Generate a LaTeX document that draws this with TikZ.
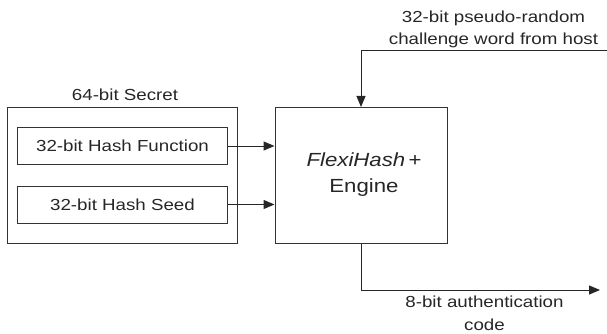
\documentclass[tikz,border=0pt]{standalone}
\usepackage{fontspec}
\setmainfont{Liberation Sans}[FakeStretch=1.17]
\usetikzlibrary{arrows.meta}
\tikzset{
  lbl/.style={font=\fontsize{16}{22}\selectfont, align=center, inner sep=0pt, text=black!85},
  biglbl/.style={font=\fontsize{19}{26}\selectfont, align=center, inner sep=0pt, text=black!85},
  boxx/.style={draw=black!80, line width=1pt, inner sep=0pt},
  arr/.style={draw=black!85, line width=1pt, -{Triangle[length=11pt,width=9pt]}},
  wire/.style={draw=black!85, line width=1pt}
}
\begin{document}
\begin{tikzpicture}[x=1pt,y=-1pt]
\useasboundingbox (0,0) rectangle (607,334);
\node[boxx, minimum width=229.5pt, minimum height=135pt] (secret) at (122.25,175.5) {};
\node[lbl] (secretlbl) at (125,95) {64-bit Secret};
\node[boxx, lbl, draw=black!80, minimum width=210.5pt, minimum height=37pt] (hf) at (122.5,146) {32-bit Hash Function};
\node[boxx, lbl, draw=black!80, minimum width=210.5pt, minimum height=37pt] (hs) at (122.5,204.5) {32-bit Hash Seed};
\node[boxx, minimum width=172pt, minimum height=135.5pt] (engine) at (361,175.25) {};
\node[biglbl, text width=160pt] (enginelbl) at (364,175) {\textit{FlexiHash}\,+\\Engine};
\coordinate (topin) at (607,51);
\coordinate (outend) at (600,290);
\node[lbl] (toplbl) at (493.5,29) {32-bit pseudo-random\\challenge word from host};
\node[lbl] (botlbl) at (484.5,313.5) {8-bit authentication\\[1pt]code};
\draw[arr] (hf.east) -- (engine.west |- hf.east);
\draw[arr] (hs.east) -- (engine.west |- hs.east);
\draw[arr] (topin) -| (engine.north);
\draw[arr] (engine.south) |- (outend);
\end{tikzpicture}
\end{document}
